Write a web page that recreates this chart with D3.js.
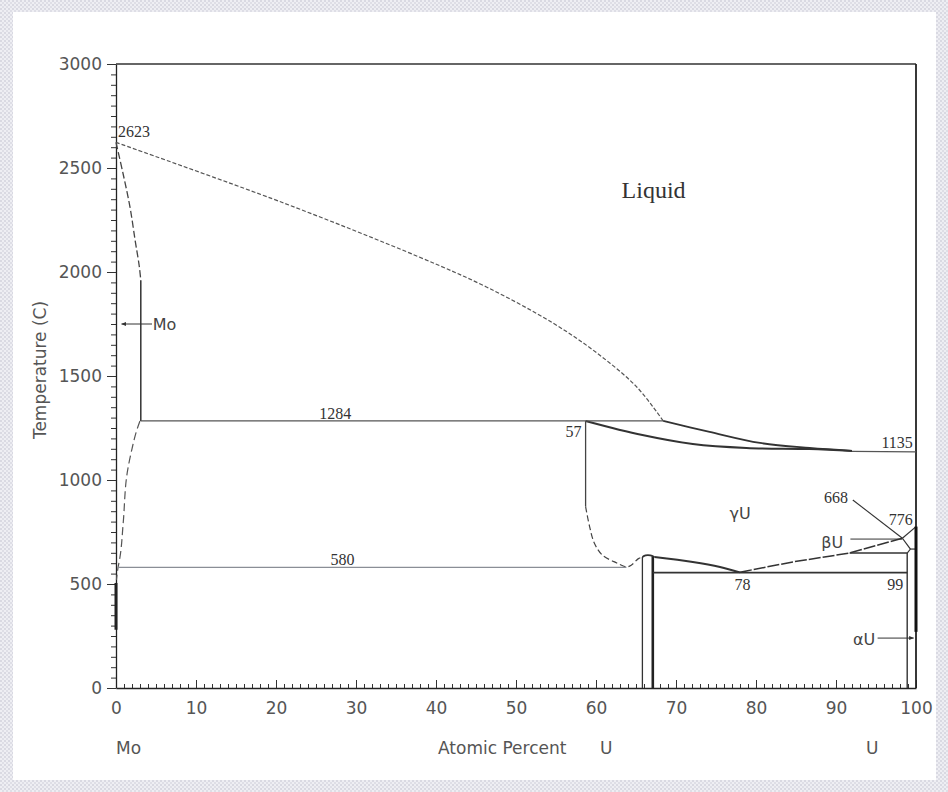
<!DOCTYPE html>
<html>
<head>
<meta charset="utf-8">
<script src="https://cdn.jsdelivr.net/npm/d3@7/dist/d3.min.js"></script>
<style>
body { margin: 0; background: #fff; }
</style>
</head>
<body>
<div id="chart"></div>
<script>
// axis ticks
const xTickLabels = [0, 10, 20, 30, 40, 50, 60, 70, 80, 90, 100];
const yTickLabels = [0, 500, 1000, 1500, 2000, 2500, 3000];

// phase boundaries, [at.% U, temperature C]
const liquidus = [[0, 2623], [20.8, 2334], [37.9, 2072], [46.3, 1928], [54.6, 1755], [60.1, 1611], [65.1, 1447], [68.4, 1284]];
const liquidusGamma = [[68.4, 1284], [74.2, 1231], [80.5, 1178], [86.7, 1154], [92, 1140]];
const solidusGamma = [[58.7, 1284], [65.8, 1216], [72.1, 1173], [78.8, 1154], [86.7, 1149], [92, 1140]];
const moSolidusUpper = [[0, 2623], [0.9, 2470], [1.75, 2312], [2.4, 2150], [2.9, 2030], [3.1, 1960]];
const moSolidusLower = [[3.1, 1960], [3.1, 1284]];
const moSolvus = [[3.0, 1284], [2.6, 1240], [2.0, 1150], [1.4, 1034], [0.9, 793], [0.5, 630], [0.25, 577], [0.05, 520]];
const moEdge = [[0, 505], [0, 280]];
const gammaSolvusTop = [[58.7, 1284], [58.7, 872]];
const gammaSolvusLow = [[58.7, 872], [59.2, 776], [59.8, 696], [60.8, 639], [62.6, 601], [63.8, 582], [64.4, 590], [65.3, 622], [65.8, 630]];
const compoundTop = [[65.8, 630], [66.2, 638], [66.8, 638], [67.3, 630]];
const compoundLeft = [[65.8, 630], [65.8, 0]];
const compoundRight = [[67.1, 632], [67.1, 0]];
const gammaToEutectoid = [[67.3, 630], [72.1, 606], [75.5, 582], [78, 556]];
const gammaToBeta = [[78, 556], [78.8, 563], [84.6, 606], [91.7, 649], [98.3, 720]];
const peritectic1284 = [[3.1, 1284], [68.4, 1284]];
const eutectoid580 = [[0.25, 580], [63.8, 580]];
const eutectoid555 = [[67.1, 555], [98.9, 555]];
const beta649 = [[91.7, 649], [98.9, 649]];
const melt1135 = [[92, 1138], [100, 1135]];
const alphaSolvus = [[98.9, 649], [98.9, 0]];
const gammaU = [[98.3, 720], [100, 776]];
const betaU = [[98.3, 720], [99.3, 668], [98.9, 649]];
const betaAlphaU = [[99.3, 668], [100, 668]];
const uEdge = [[100, 776], [100, 270]];

// leader lines
const moArrow = [[4.5, 1750], [0.7, 1750]];
const alphaArrow = [[95.2, 240], [99.7, 240]];
const betaLeader = [[91.8, 716], [98.3, 716]];
const leader668 = [[92.1, 904], [98.3, 720]];

// labels: [text, at.% U, temperature]
const numberLabels = [
  ["2623", 0.25, 2649, "start"],
  ["1284", 27.4, 1293, "middle"],
  ["57", 58.2, 1207, "end"],
  ["1135", 99.6, 1154, "end"],
  ["668", 91.5, 889, "end"],
  ["776", 99.6, 784, "end"],
  ["580", 28.3, 591, "middle"],
  ["78", 78.3, 471, "middle"],
  ["99", 98.4, 471, "end"]
];
const phaseLabels = [
  ["γU", 78, 812, "middle"],
  ["βU", 90.9, 673, "end"],
  ["αU", 94.9, 207, "end"],
  ["Mo", 4.6, 1721, "start"]
];

const W = 948, H = 792;
const plotLeft = 116, plotRight = 916, plotTop = 64, plotBottom = 688;

const svg = d3.select("#chart").append("svg")
  .attr("width", W).attr("height", H)
  .style("font-family", "'DejaVu Sans', sans-serif");

// textured frame
const defs = svg.append("defs");
const pat = defs.append("pattern").attr("id", "tex")
  .attr("width", 4).attr("height", 4).attr("patternUnits", "userSpaceOnUse");
pat.append("rect").attr("width", 4).attr("height", 4).attr("fill", "#eeeef3");
pat.append("rect").attr("width", 2).attr("height", 2).attr("fill", "#d9d9e2");
pat.append("rect").attr("x", 2).attr("y", 2).attr("width", 2).attr("height", 2).attr("fill", "#dedee6");
defs.append("marker").attr("id", "arrow")
  .attr("viewBox", "0 0 10 10").attr("refX", 9).attr("refY", 5)
  .attr("markerWidth", 5).attr("markerHeight", 5).attr("orient", "auto")
  .append("path").attr("d", "M0,1 L10,5 L0,9 z").attr("fill", "#333");

svg.append("rect").attr("width", W).attr("height", H).attr("fill", "url(#tex)");
svg.append("rect").attr("x", 13).attr("y", 12).attr("width", W - 25).attr("height", H - 24).attr("fill", "#fff");

const x = d3.scaleLinear().domain([0, 100]).range([plotLeft, plotRight]);
const y = d3.scaleLinear().domain([0, 3000]).range([plotBottom, plotTop]);

// axes
const xMinor = d3.range(0, 101, 1);
const yMinor = d3.range(0, 3001, 50);

svg.append("g").attr("transform", `translate(0,${plotBottom})`)
  .call(d3.axisTop(x).tickValues(xMinor).tickSize(4).tickFormat(""))
  .call(g => g.select(".domain").remove())
  .selectAll("line").attr("stroke", "#333");

const xAxis = svg.append("g").attr("transform", `translate(0,${plotBottom})`)
  .call(d3.axisBottom(x).tickValues(xTickLabels).tickSizeInner(-8).tickSizeOuter(0).tickPadding(14).tickFormat(d3.format("d")));
xAxis.select(".domain").attr("stroke", "#222").attr("stroke-width", 1.3);
xAxis.selectAll("line").attr("stroke", "#333");
xAxis.selectAll("text").attr("font-size", 17).attr("fill", "#555").attr("font-family", "'DejaVu Sans', sans-serif");

svg.append("g").attr("transform", `translate(${plotLeft},0)`)
  .call(d3.axisLeft(y).tickValues(yMinor).tickSize(5).tickFormat(""))
  .call(g => g.select(".domain").remove())
  .selectAll("line").attr("stroke", "#333");

const yAxis = svg.append("g").attr("transform", `translate(${plotLeft},0)`)
  .call(d3.axisLeft(y).tickValues(yTickLabels).tickSizeInner(9).tickSizeOuter(0).tickPadding(5).tickFormat(d3.format("d")));
yAxis.select(".domain").attr("stroke", "#222").attr("stroke-width", 1.3);
yAxis.selectAll("line").attr("stroke", "#333");
yAxis.selectAll("text").attr("font-size", 17).attr("fill", "#555").attr("font-family", "'DejaVu Sans', sans-serif");

const line = d3.line().x(d => x(d[0])).y(d => y(d[1]));
const smooth = d3.line().x(d => x(d[0])).y(d => y(d[1])).curve(d3.curveCatmullRom);
const smoothY = d3.line().x(d => x(d[0])).y(d => y(d[1])).curve(d3.curveMonotoneY);

function draw(data, gen, stroke, width, dash) {
  return svg.append("path").datum(data)
    .attr("fill", "none")
    .attr("stroke", stroke)
    .attr("stroke-width", width)
    .attr("stroke-dasharray", dash || null)
    .attr("d", gen);
}

// top and right border
draw([[0, 3000], [100, 3000]], line, "#333", 1.4);
draw([[100, 3000], [100, 0]], line, "#222", 1.8);

// boundaries
draw(liquidus, smooth, "#555", 1.2, "4,2");
draw(liquidusGamma, smooth, "#333", 1.8);
draw(solidusGamma, smooth, "#333", 2);
draw(moSolidusUpper, smooth, "#444", 1.3, "7,3");
draw(moSolidusLower, line, "#333", 1.5);
draw(moSolvus, smoothY, "#555", 1.2, "8,4");
draw(moEdge, line, "#222", 3);
draw(gammaSolvusTop, line, "#444", 1.3);
draw(gammaSolvusLow, smooth, "#444", 1.2, "6,3");
draw(compoundTop, smooth, "#333", 1.8);
draw(compoundLeft, line, "#333", 1.3);
draw(compoundRight, line, "#222", 2.6);
draw(gammaToEutectoid, smooth, "#333", 2);
draw(gammaToBeta, line, "#333", 1.5, "12,2");
draw(peritectic1284, line, "#555", 1.3);
draw(eutectoid580, line, "#8a8e96", 1.2);
draw(eutectoid555, line, "#333", 1.8);
draw(beta649, line, "#333", 1.5);
draw(melt1135, line, "#555", 1.3);
draw(alphaSolvus, line, "#333", 1.4);
draw(gammaU, line, "#333", 1.2);
draw(betaU, line, "#333", 1.2);
draw(betaAlphaU, line, "#333", 1.2);
draw(uEdge, line, "#111", 3);

// leaders
draw(moArrow, line, "#333", 1).attr("marker-end", "url(#arrow)");
draw(alphaArrow, line, "#333", 1).attr("marker-end", "url(#arrow)");
draw(betaLeader, line, "#333", 1);
draw(leader668, line, "#333", 1.1);

// labels
svg.append("g").selectAll("text").data(numberLabels).join("text")
  .attr("x", d => x(d[1])).attr("y", d => y(d[2]))
  .attr("text-anchor", d => d[3])
  .attr("font-family", "'Liberation Serif', serif")
  .attr("font-size", 16).attr("fill", "#333")
  .text(d => d[0]);

svg.append("g").selectAll("text").data(phaseLabels).join("text")
  .attr("x", d => x(d[1])).attr("y", d => y(d[2]))
  .attr("text-anchor", d => d[3])
  .attr("font-size", 16).attr("fill", "#444")
  .text(d => d[0]);

svg.append("text")
  .attr("x", x(63.2)).attr("y", y(2356))
  .attr("font-family", "'Liberation Serif', serif")
  .attr("font-size", 24).attr("fill", "#333")
  .text("Liquid");

// axis titles
svg.append("text")
  .attr("transform", "rotate(-90)")
  .attr("x", -370).attr("y", 46)
  .attr("text-anchor", "middle")
  .attr("font-size", 17).attr("fill", "#555")
  .text("Temperature (C)");

svg.append("text").attr("x", plotLeft).attr("y", 754)
  .attr("font-size", 17).attr("fill", "#555").text("Mo");
svg.append("text").attr("x", 438).attr("y", 754)
  .attr("font-size", 17).attr("fill", "#555").text("Atomic Percent");
svg.append("text").attr("x", 600).attr("y", 754)
  .attr("font-size", 17).attr("fill", "#555").text("U");
svg.append("text").attr("x", 866).attr("y", 754)
  .attr("font-size", 17).attr("fill", "#555").text("U");
</script>
</body>
</html>
